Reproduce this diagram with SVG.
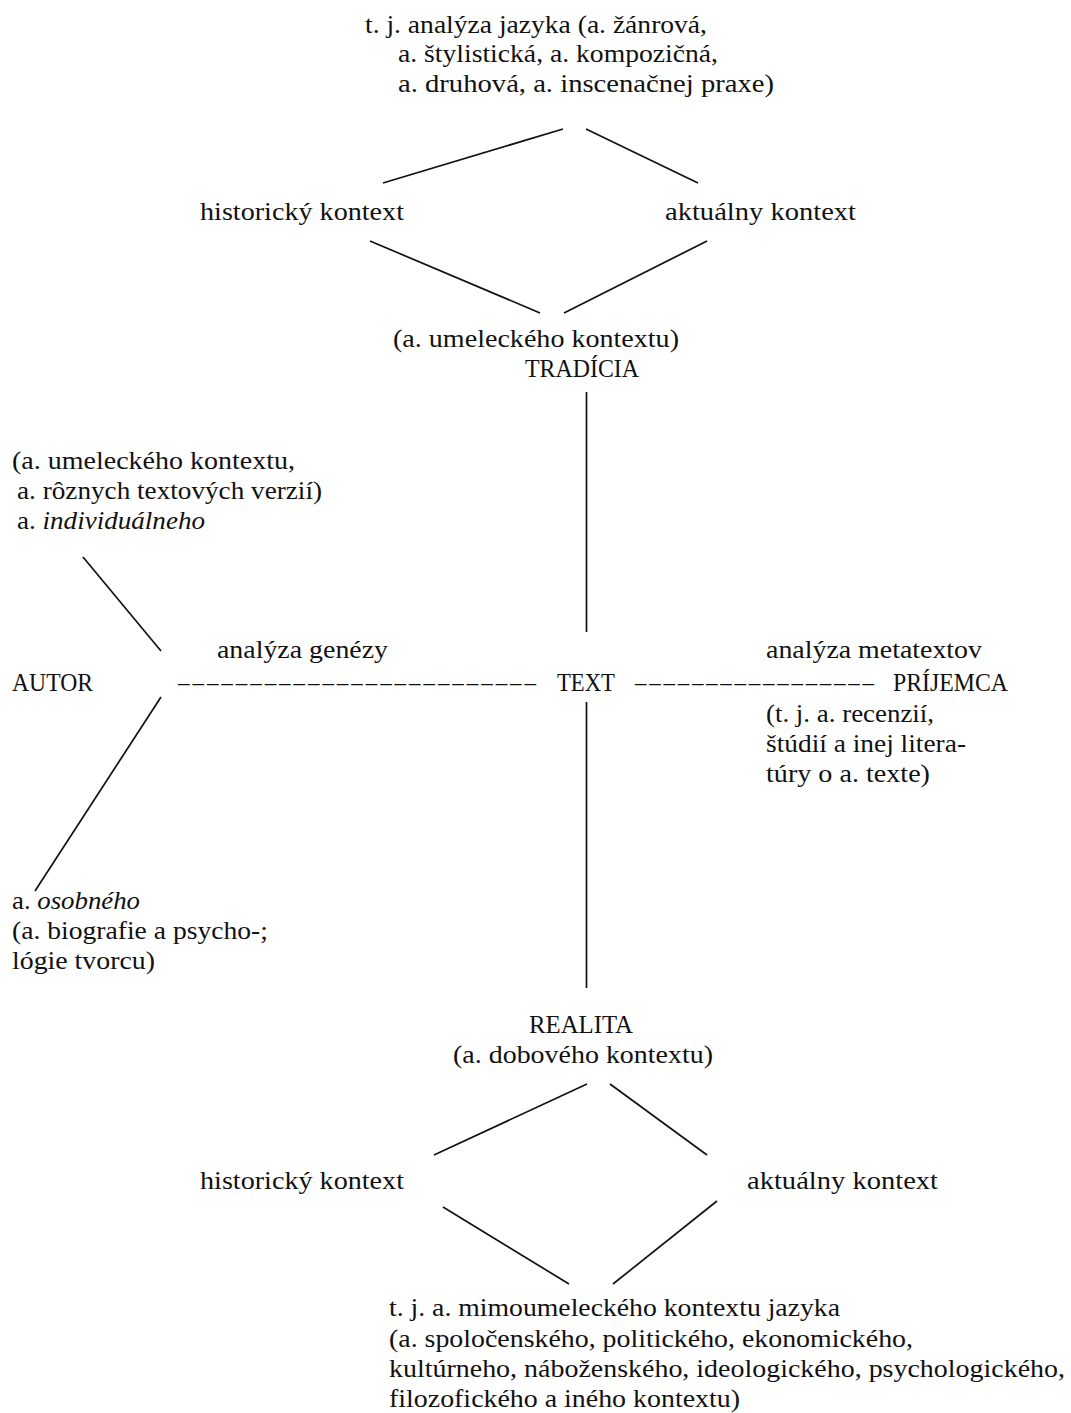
<svg xmlns="http://www.w3.org/2000/svg" width="1071" height="1413" viewBox="0 0 1071 1413">
<style>
text{font-family:"Liberation Serif","Times New Roman",serif;font-size:25.5px;fill:#111}
.d{font-size:23px}
.it{font-style:italic}
.c line{stroke:#111;stroke-width:1.7;stroke-linecap:butt}
</style>
<rect width="1071" height="1413" fill="#fff"/>
<g class="c" id="connectors">
<line x1="563" y1="129" x2="383" y2="183"/>
<line x1="586" y1="129" x2="698" y2="183"/>
<line x1="370" y1="241" x2="540" y2="313"/>
<line x1="707" y1="241" x2="564" y2="313"/>
<line x1="586.5" y1="392" x2="586.5" y2="632"/>
<line x1="83" y1="557" x2="161" y2="651"/>
<line x1="161" y1="697" x2="35" y2="891"/>
<line x1="586.5" y1="702" x2="586.5" y2="988"/>
<line x1="587" y1="1084" x2="434" y2="1155"/>
<line x1="610" y1="1084" x2="707" y2="1155"/>
<line x1="443" y1="1207" x2="569" y2="1284"/>
<line x1="717" y1="1201" x2="613" y2="1284"/>
<text class="d" x="178" y="690" textLength="358" lengthAdjust="spacing">–––––––––––––––––––––––––</text>
<text class="d" x="635" y="690" textLength="239" lengthAdjust="spacing">–––––––––––––––––</text>
</g>
<g id="top">
<text x="365" y="33" textLength="342" lengthAdjust="spacingAndGlyphs">t. j. analýza jazyka (a. žánrová,</text>
<text x="398" y="62" textLength="320" lengthAdjust="spacingAndGlyphs">a. štylistická, a. kompozičná,</text>
<text x="398" y="92" textLength="376" lengthAdjust="spacingAndGlyphs">a. druhová, a. inscenačnej praxe)</text>
</g>
<g id="hist-top"><text x="200" y="220" textLength="204" lengthAdjust="spacingAndGlyphs">historický kontext</text></g>
<g id="akt-top"><text x="665" y="220" textLength="191" lengthAdjust="spacingAndGlyphs">aktuálny kontext</text></g>
<g id="tradicia">
<text x="393" y="347" textLength="286" lengthAdjust="spacingAndGlyphs">(a. umeleckého kontextu)</text>
<text x="525" y="377" textLength="114" lengthAdjust="spacingAndGlyphs">TRADÍCIA</text>
</g>
<g id="autor-upper">
<text x="12" y="469" textLength="283" lengthAdjust="spacingAndGlyphs">(a. umeleckého kontextu,</text>
<text x="17" y="499" textLength="305" lengthAdjust="spacingAndGlyphs">a. rôznych textových verzií)</text>
<text x="17" y="529" textLength="188" lengthAdjust="spacingAndGlyphs">a. <tspan class="it">individuálneho</tspan></text>
</g>
<g id="genezy"><text x="217" y="658" textLength="171" lengthAdjust="spacingAndGlyphs">analýza genézy</text></g>
<g id="autor"><text x="12" y="691" textLength="81" lengthAdjust="spacingAndGlyphs">AUTOR</text></g>
<g id="text"><text x="557" y="691" textLength="58" lengthAdjust="spacingAndGlyphs">TEXT</text></g>
<g id="metatext"><text x="766" y="658" textLength="216" lengthAdjust="spacingAndGlyphs">analýza metatextov</text></g>
<g id="prijemca">
<text x="893" y="691" textLength="115" lengthAdjust="spacingAndGlyphs">PRÍJEMCA</text>
<text x="766" y="722" textLength="168" lengthAdjust="spacingAndGlyphs">(t. j. a. recenzií,</text>
<text x="766" y="752" textLength="200" lengthAdjust="spacingAndGlyphs">štúdií a inej litera-</text>
<text x="766" y="782" textLength="164" lengthAdjust="spacingAndGlyphs">túry o a. texte)</text>
</g>
<g id="autor-lower">
<text x="12" y="909" textLength="128" lengthAdjust="spacingAndGlyphs">a. <tspan class="it">osobného</tspan></text>
<text x="12" y="939" textLength="256" lengthAdjust="spacingAndGlyphs">(a. biografie a psycho-;</text>
<text x="12" y="969" textLength="143" lengthAdjust="spacingAndGlyphs">lógie tvorcu)</text>
</g>
<g id="realita">
<text x="529" y="1033" textLength="104" lengthAdjust="spacingAndGlyphs">REALITA</text>
<text x="453" y="1063" textLength="260" lengthAdjust="spacingAndGlyphs">(a. dobového kontextu)</text>
</g>
<g id="hist-bottom"><text x="200" y="1189" textLength="204" lengthAdjust="spacingAndGlyphs">historický kontext</text></g>
<g id="akt-bottom"><text x="747" y="1189" textLength="191" lengthAdjust="spacingAndGlyphs">aktuálny kontext</text></g>
<g id="bottom">
<text x="389" y="1316" textLength="451" lengthAdjust="spacingAndGlyphs">t. j. a. mimoumeleckého kontextu jazyka</text>
<text x="389" y="1347" textLength="524" lengthAdjust="spacingAndGlyphs">(a. spoločenského, politického, ekonomického,</text>
<text x="389" y="1377" textLength="676" lengthAdjust="spacingAndGlyphs">kultúrneho, náboženského, ideologického, psychologického,</text>
<text x="389" y="1407" textLength="351" lengthAdjust="spacingAndGlyphs">filozofického a iného kontextu)</text>
</g>
</svg>
